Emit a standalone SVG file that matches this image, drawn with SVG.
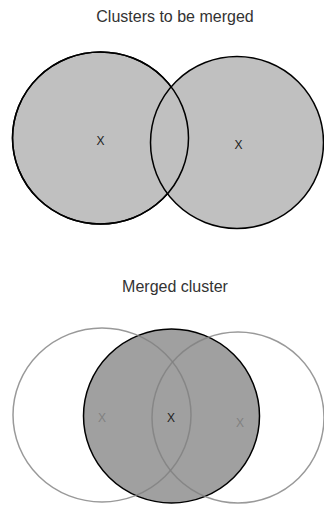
<svg xmlns="http://www.w3.org/2000/svg" width="324" height="505" viewBox="0 0 324 505">
  <style>
    .title { font-family: "Liberation Sans", Arial, sans-serif; font-size: 16px; fill: #333; text-anchor: middle; }
    .mark { font-family: "Liberation Sans", Arial, sans-serif; font-size: 12px; text-anchor: middle; }
    .cluster { fill: #c0c0c0; stroke: #000; stroke-width: 1.5; }
    .outline { fill: none; stroke: #000; stroke-width: 1.5; }
    .merged { fill: #a0a0a0; stroke: #000; stroke-width: 1.5; }
    .ghost { fill: none; stroke: #808080; stroke-opacity: 0.8; stroke-width: 1.5; }
  </style>
  <rect width="324" height="505" fill="#fff"/>

  <!-- Top: two clusters before merging -->
  <text class="title" x="175" y="22">Clusters to be merged</text>
  <g id="cluster-a">
    <ellipse class="cluster" cx="100.5" cy="138" rx="88" ry="86"/>
  </g>
  <g id="cluster-b">
    <ellipse class="cluster" cx="237" cy="142.5" rx="86.5" ry="86"/>
    <!-- left cluster's edge stays visible through the right cluster -->
    <ellipse class="outline" cx="100.5" cy="138" rx="88" ry="86"/>
  </g>
  <text class="mark" x="100.5" y="145" fill="#222">X</text>
  <text class="mark" x="238.5" y="149" fill="#222">X</text>

  <!-- Bottom: the merged cluster with the original outlines -->
  <text class="title" x="175" y="292">Merged cluster</text>
  <g id="merged">
    <ellipse class="merged" cx="171.5" cy="416" rx="88" ry="87"/>
    <text class="mark" x="171" y="422" fill="#222">X</text>
  </g>
  <g id="ghost-a">
    <ellipse class="ghost" cx="102" cy="415" rx="89" ry="87"/>
    <text class="mark" x="102" y="422" fill="#808080">X</text>
  </g>
  <g id="ghost-b">
    <ellipse class="ghost" cx="238" cy="417.5" rx="86" ry="85.5"/>
    <text class="mark" x="240" y="427" fill="#808080">X</text>
  </g>
</svg>
